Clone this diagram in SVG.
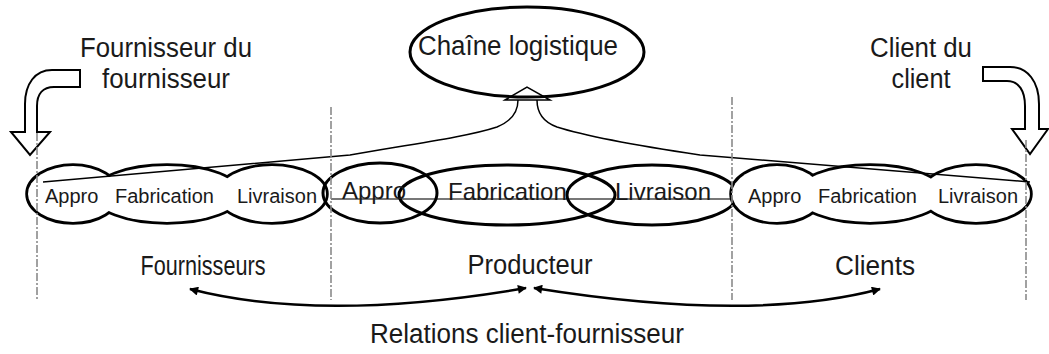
<svg xmlns="http://www.w3.org/2000/svg" width="1049" height="354" viewBox="0 0 1049 354">
<defs>
<style>
text{font-family:"Liberation Sans",Arial,sans-serif;fill:#1a1a1a}
.big{font-size:27px}
.mid{font-size:24px}
.sm{font-size:20px}
.lobe{fill:none;stroke:#000;stroke-width:5.5}
.lobefill{fill:#fff;stroke:none}
.ell{fill:none;stroke:#000;stroke-width:3}
.dash{stroke:#8a8a8a;stroke-width:1.6;stroke-dasharray:8 2 2 2;fill:none}
.conn{fill:none;stroke:#000;stroke-width:1.5}
.hollow{fill:#fff;stroke:#000;stroke-width:2}
.rel{fill:none;stroke:#000;stroke-width:2.5}
</style>
<marker id="ah" viewBox="0 0 10 10" refX="9" refY="5" markerWidth="12" markerHeight="9" markerUnits="userSpaceOnUse" orient="auto-start-reverse">
<path d="M0,0 L10,5 L0,10 z" fill="#000"/>
</marker>
</defs>
<rect width="1049" height="354" fill="#fff"/>

<g id="fournisseur-du-fournisseur">
<path class="hollow" d="M80,70 L52,70 C35,70 25,84 25,104 L25,132 L11,132 L30,155 L50,132 L37,132 L37,106 C37,94 43,87 54,87 L80,87 Z"/>
<text class="big" x="166" y="57" text-anchor="middle" textLength="172" lengthAdjust="spacingAndGlyphs">Fournisseur du</text>
<text class="big" x="166" y="88" text-anchor="middle" textLength="128" lengthAdjust="spacingAndGlyphs">fournisseur</text>
</g>

<g id="client-du-client">
<path class="hollow" d="M983,67 L1010,67 C1028,67 1039,82 1039,104 L1039,129 L1048,129 L1030,154 L1012,129 L1025,129 L1025,106 C1025,91 1019,81 1007,81 L983,81 Z"/>
<text class="big" x="921" y="57" text-anchor="middle" textLength="102" lengthAdjust="spacingAndGlyphs">Client du</text>
<text class="big" x="921" y="88" text-anchor="middle" textLength="59" lengthAdjust="spacingAndGlyphs">client</text>
</g>

<g id="chaine-logistique">
<ellipse class="ell" cx="527" cy="52" rx="117" ry="45"/>
<text class="big" x="418" y="55" textLength="200" lengthAdjust="spacingAndGlyphs">Chaîne logistique</text>
</g>

<g id="fournisseurs">
<ellipse class="lobe" cx="73" cy="194" rx="45" ry="28"/>
<ellipse class="lobe" cx="167" cy="194" rx="73" ry="28"/>
<ellipse class="lobe" cx="272" cy="194" rx="54" ry="28"/>
<ellipse class="lobefill" cx="73" cy="194" rx="45" ry="28"/>
<ellipse class="lobefill" cx="167" cy="194" rx="73" ry="28"/>
<ellipse class="lobefill" cx="272" cy="194" rx="54" ry="28"/>
<text class="sm" x="45" y="203">Appro</text>
<text class="sm" x="115" y="203">Fabrication</text>
<text class="sm" x="237" y="203">Livraison</text>
<text class="big" x="203" y="275" text-anchor="middle" textLength="125" lengthAdjust="spacingAndGlyphs">Fournisseurs</text>
</g>

<g id="producteur">
<line x1="331" y1="199" x2="732" y2="199" stroke="#777" stroke-width="2"/>
<ellipse class="ell" cx="380" cy="193" rx="57" ry="30"/>
<ellipse class="ell" cx="507" cy="195" rx="108" ry="30"/>
<ellipse class="ell" cx="652" cy="195" rx="85" ry="30"/>
<text class="mid" x="342" y="199">Appro</text>
<text class="mid" x="448" y="200">Fabrication</text>
<text class="mid" x="615" y="200">Livraison</text>
<text class="big" x="530" y="274" text-anchor="middle" textLength="125" lengthAdjust="spacingAndGlyphs">Producteur</text>
</g>

<g id="clients">
<ellipse class="lobe" cx="777" cy="194" rx="45" ry="28"/>
<ellipse class="lobe" cx="870" cy="194" rx="73" ry="28"/>
<ellipse class="lobe" cx="976" cy="194" rx="54" ry="28"/>
<ellipse class="lobefill" cx="777" cy="194" rx="45" ry="28"/>
<ellipse class="lobefill" cx="870" cy="194" rx="73" ry="28"/>
<ellipse class="lobefill" cx="976" cy="194" rx="54" ry="28"/>
<text class="sm" x="748" y="203">Appro</text>
<text class="sm" x="818" y="203">Fabrication</text>
<text class="sm" x="938" y="203">Livraison</text>
<text class="big" x="875" y="275" text-anchor="middle" textLength="80" lengthAdjust="spacingAndGlyphs">Clients</text>
</g>

<g id="relations">
<text class="big" x="527" y="343" text-anchor="middle" textLength="314" lengthAdjust="spacingAndGlyphs">Relations client-fournisseur</text>
</g>

<g id="connectors">
<path class="conn" d="M43,182 L350,155 C420,143 470,136 497,127 C512,121 518,112 518,100 M537,100 C537,112 543,122 557,127 C585,136 640,146 700,155 L1030,182"/>
<path class="conn" d="M505,100 L527,87 L550,100 Z"/>
<path class="rel" d="M190,289 Q321,323 526,288" marker-start="url(#ah)" marker-end="url(#ah)"/>
<path class="rel" d="M534,288 Q752,323 880,289" marker-start="url(#ah)" marker-end="url(#ah)"/>
<line class="dash" x1="37" y1="133" x2="37" y2="300"/>
<line class="dash" x1="331" y1="107" x2="331" y2="300"/>
<line class="dash" x1="732" y1="97" x2="732" y2="300"/>
<line class="dash" x1="1026" y1="140" x2="1026" y2="300"/>
</g>
</svg>
